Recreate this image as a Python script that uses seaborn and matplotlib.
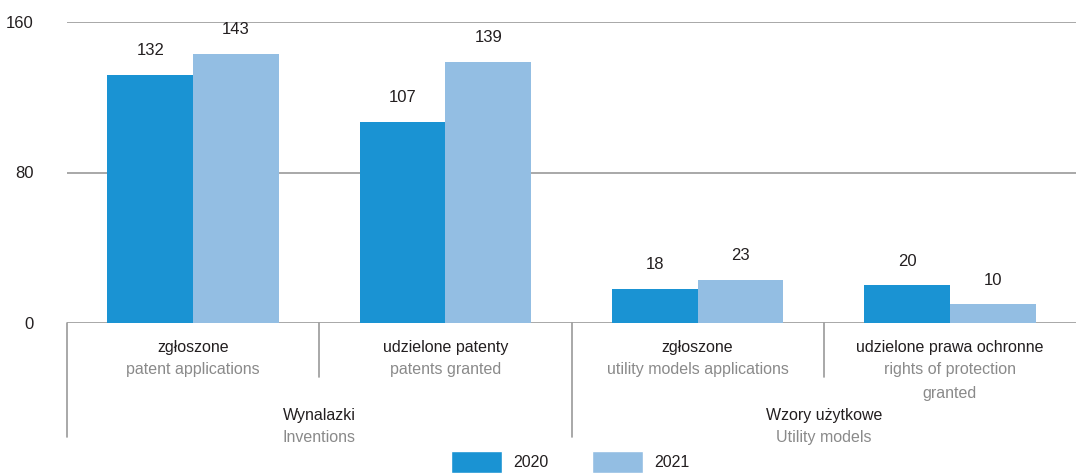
import matplotlib
matplotlib.use("Agg")
import matplotlib.pyplot as plt
import matplotlib.transforms as mtransforms
from matplotlib.patches import Patch
import pandas as pd
import seaborn as sns

# data
categories = ["zgłoszone", "udzielone patenty", "zgłoszone ", "udzielone prawa ochronne"]
categories_en = ["patent applications", "patents granted", "utility models applications",
                 "rights of protection\ngranted"]
groups = ["Wynalazki", "Wzory użytkowe"]
groups_en = ["Inventions", "Utility models"]
years = ["2020", "2021"]
values_2020 = [132, 107, 18, 20]
values_2021 = [143, 139, 23, 10]
yticks = [0, 80, 160]

colours = ["#1a93d3", "#93bee3"]
dark = "#231f20"
grey = "#8a8a8a"
lineColour = "#999999"
fontSize = 11.5

sns.set_style("white")
plt.rcParams["font.family"] = ["Liberation Sans", "DejaVu Sans"]

df = pd.DataFrame({
    "category": categories * 2,
    "year": [years[0]] * 4 + [years[1]] * 4,
    "value": values_2020 + values_2021,
})

fig = plt.figure(figsize=(10.76, 4.75), dpi=100)
ax = fig.add_axes([67 / 1076, 1 - 323 / 475, 1 - 67 / 1076, 301 / 475])

sns.barplot(data=df, x="category", y="value", hue="year", order=categories,
            palette=colours, width=0.68, saturation=1, linewidth=0, ax=ax, legend=False)

for c in ax.containers:
    ax.bar_label(c, labels=[str(int(v)) for v in c.datavalues], padding=12,
                 fontsize=fontSize + 0.5, color=dark)

ax.set_ylim(0, 160)
ax.set_xlim(-0.5, 3.5)
ax.set_yticks(yticks)
ax.set_yticklabels([str(t) for t in yticks], fontsize=fontSize + 0.5, color=dark)
ax.tick_params(axis="y", length=0, pad=24)
ax.set_xticks([])
ax.set_xlabel("")
ax.set_ylabel("")
for s in ax.spines.values():
    s.set_visible(False)
for t in yticks:
    ax.axhline(t, color=lineColour, linewidth=1.2, zorder=0)

trans = mtransforms.blended_transform_factory(ax.transData, ax.transAxes)

# separators below the axis
for x in [-0.5, 1.5]:
    ax.plot([x, x], [0, -0.379], color=lineColour, linewidth=1.2, transform=trans, clip_on=False)
for x in [0.5, 2.5]:
    ax.plot([x, x], [0, -0.179], color=lineColour, linewidth=1.2, transform=trans, clip_on=False)

for i, (pl, en) in enumerate(zip(categories, categories_en)):
    ax.text(i, -0.080, pl.strip(), transform=trans, ha="center", va="center",
            fontsize=fontSize, color=dark)
    for k, line in enumerate(en.split("\n")):
        ax.text(i, -0.156 - 0.077 * k, line, transform=trans, ha="center", va="center",
                fontsize=fontSize, color=grey)

for j, (pl, en) in enumerate(zip(groups, groups_en)):
    xc = 2 * j + 0.5
    ax.text(xc, -0.306, pl, transform=trans, ha="center", va="center",
            fontsize=fontSize, color=dark)
    ax.text(xc, -0.382, en, transform=trans, ha="center", va="center",
            fontsize=fontSize, color=grey)

handles = [Patch(facecolor=colours[0]), Patch(facecolor=colours[1])]
fig.legend(handles, years, loc="center", bbox_to_anchor=(0.53, 0.027), ncol=2,
           frameon=False, fontsize=fontSize, handlelength=3.2, handleheight=1.8,
           columnspacing=2.75, handletextpad=0.7, labelcolor=dark)

fig.savefig("out.png", dpi=100)
